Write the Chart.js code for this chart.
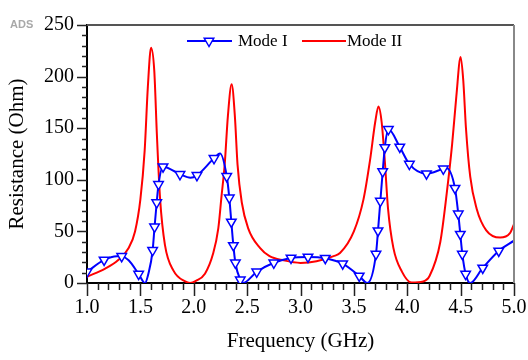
<!DOCTYPE html>
<html>
<head>
<meta charset="utf-8">
<script src="https://cdn.jsdelivr.net/npm/chart.js@4.4.1/dist/chart.umd.min.js"></script>
<style>
  body { margin: 0; background: #fff; }
  canvas { display: block; }
</style>
</head>
<body>
<canvas id="resChart" width="528" height="360"></canvas>
<script>
// Mode I (blue, with markers)
const modeIFreq = [1.00, 1.16, 1.28, 1.325, 1.39, 1.484, 1.543, 1.575, 1.615, 1.633, 1.653, 1.67, 1.712,
    1.871, 1.97, 2.03, 2.19, 2.246, 2.309, 2.333, 2.352, 2.371, 2.39, 2.436, 2.46, 2.59, 2.75, 2.911,
    3.07, 3.232, 3.395, 3.55, 3.626, 3.707, 3.726, 3.748, 3.77, 3.79, 3.823, 3.93, 4.02, 4.18, 4.338,
    4.37, 4.447, 4.478, 4.497, 4.516, 4.547, 4.59, 4.707, 4.857, 5.00];
const modeIRes = [10.8, 22.4, 26, 25.8, 22, 8.7, 0, 9, 31.7, 54.5, 78, 95.6, 112.7,
    105.3, 102, 104.3, 120.8, 125.5, 103.4, 82.5, 59.2, 36.4, 19.6, 3.1, 0, 10.8, 19.6, 24.3,
    25.2, 24, 18.7, 6.8, 0, 28, 50.7, 79.4, 108, 131.4, 148.9, 131.8, 115.2, 105.9, 110.6,
    111.3, 91.9, 67, 47.3, 28, 8.7, 0, 14.6, 31.1, 41];
// 1 = marker drawn at this sample
const modeIMarker = [1, 1, 0, 1, 0, 1, 0, 0, 1, 1, 1, 1, 1,
    1, 0, 1, 1, 0, 1, 1, 1, 1, 1, 1, 0, 1, 1, 1,
    1, 1, 1, 1, 0, 1, 1, 1, 1, 1, 1, 1, 1, 1, 1,
    0, 1, 1, 1, 1, 1, 0, 1, 1, 0];

// Mode II (red)
const modeIIFreq = [1.00, 1.17, 1.29, 1.39, 1.45, 1.50, 1.54, 1.57, 1.60, 1.63, 1.655, 1.685, 1.73, 1.81,
    1.92, 1.965, 2.02, 2.105, 2.18, 2.23, 2.26, 2.29, 2.32, 2.355, 2.385, 2.41, 2.45, 2.51, 2.62, 2.71,
    2.84, 3.00, 3.15, 3.31, 3.37, 3.50, 3.59, 3.65, 3.70, 3.73, 3.76, 3.79, 3.82, 3.87, 3.95, 4.04,
    4.15, 4.21, 4.31, 4.37, 4.42, 4.46, 4.50, 4.525, 4.55, 4.59, 4.65, 4.74, 4.87, 4.96, 5.00];
const modeIIRes = [6, 14, 22, 34, 50, 81, 128, 190, 228, 206, 143, 81, 37, 12,
    1.5, 0, 2, 9, 28, 53, 84, 115, 162, 192.5, 162, 115, 78, 53, 34, 26,
    22, 19.5, 21, 26, 29, 50, 81, 118, 156, 171, 156, 118, 72, 34, 11, 0.5,
    1.5, 7, 40, 87, 134, 181, 219, 196, 150, 103, 72, 51, 44, 48, 57];

const xTicks = [1.0, 1.5, 2.0, 2.5, 3.0, 3.5, 4.0, 4.5, 5.0];
const yTicks = [0, 50, 100, 150, 200, 250];

const serif = '"Liberation Serif", "Times New Roman", serif';

// ticks, frame, legend and the ADS tag
const decorPlugin = {
    id: 'decor',
    afterDraw(chart) {
        const ctx = chart.ctx;
        const xs = chart.scales.x, ys = chart.scales.y;
        const area = chart.chartArea;
        ctx.save();

        // top and right frame
        ctx.lineWidth = 2;
        ctx.strokeStyle = '#555';
        ctx.beginPath();
        ctx.moveTo(area.left, area.top);
        ctx.lineTo(area.right, area.top);
        ctx.stroke();
        ctx.strokeStyle = '#888';
        ctx.beginPath();
        ctx.moveTo(area.right, area.top);
        ctx.lineTo(area.right, area.bottom);
        ctx.stroke();

        // tick marks (major + minor)
        ctx.strokeStyle = '#222';
        ctx.lineWidth = 1.5;
        ctx.beginPath();
        for (let i = 0; i <= 25; i++) {
            const py = Math.round(ys.getPixelForValue(i * 10)) + 0.5;
            const len = i % 5 === 0 ? 10 : 5;
            ctx.moveTo(area.left, py);
            ctx.lineTo(area.left - len, py);
        }
        for (let i = 0; i <= 40; i++) {
            const px = Math.round(xs.getPixelForValue(1 + i * 0.1)) + 0.5;
            const len = i % 5 === 0 ? 13 : 7;
            ctx.moveTo(px, area.bottom);
            ctx.lineTo(px, area.bottom + len);
        }
        ctx.stroke();

        // legend
        const ds = chart.data.datasets;
        const ly = 41;
        ctx.font = '17px ' + serif;
        ctx.textBaseline = 'middle';
        ctx.textAlign = 'left';

        ctx.strokeStyle = ds[0].borderColor;
        ctx.lineWidth = 2;
        ctx.beginPath();
        ctx.moveTo(187, ly);
        ctx.lineTo(232, ly);
        ctx.stroke();
        ctx.fillStyle = '#fff';
        ctx.lineWidth = 1.5;
        ctx.beginPath();
        ctx.moveTo(209, ly + 5.5);
        ctx.lineTo(209 - 4.76, ly - 2.75);
        ctx.lineTo(209 + 4.76, ly - 2.75);
        ctx.closePath();
        ctx.fill();
        ctx.stroke();
        ctx.fillStyle = '#000';
        ctx.fillText(ds[0].label, 238, ly + 1);

        ctx.strokeStyle = ds[1].borderColor;
        ctx.lineWidth = 2;
        ctx.beginPath();
        ctx.moveTo(302, ly);
        ctx.lineTo(346, ly);
        ctx.stroke();
        ctx.fillText(ds[1].label, 347, ly + 1);

        // ADS tag
        ctx.font = 'bold 11px "Liberation Sans", Arial, sans-serif';
        ctx.fillStyle = '#a8a8a8';
        ctx.textBaseline = 'alphabetic';
        ctx.fillText('ADS', 10, 28);

        ctx.restore();
    }
};

const ctx = document.getElementById('resChart').getContext('2d');
new Chart(ctx, {
    type: 'line',
    data: {
        datasets: [{
            label: 'Mode I',
            data: modeIFreq.map((f, i) => ({ x: f, y: modeIRes[i] })),
            borderColor: '#0000ff',
            borderWidth: 2,
            cubicInterpolationMode: 'monotone',
            pointStyle: 'triangle',
            pointRotation: 180,
            pointRadius: c => modeIMarker[c.dataIndex] ? 5.5 : 0,
            pointBorderColor: '#0000ff',
            pointBackgroundColor: '#ffffff',
            pointBorderWidth: 1.5
        }, {
            label: 'Mode II',
            data: modeIIFreq.map((f, i) => ({ x: f, y: modeIIRes[i] })),
            borderColor: '#ff0000',
            borderWidth: 2,
            cubicInterpolationMode: 'monotone',
            pointRadius: 0
        }]
    },
    options: {
        responsive: false,
        animation: false,
        layout: { padding: { top: 16, right: 14, left: 0, bottom: 0 } },
        plugins: {
            legend: { display: false },
            tooltip: { enabled: false }
        },
        scales: {
            x: {
                type: 'linear',
                min: 1,
                max: 5,
                afterFit: s => { s.height = 77; s.paddingLeft = 0; s.paddingRight = 0; },
                afterBuildTicks: s => { s.ticks = xTicks.map(v => ({ value: v })); },
                ticks: {
                    callback: v => v.toFixed(1),
                    font: { family: serif, size: 20 },
                    color: '#000',
                    padding: 13,
                    maxRotation: 0,
                    autoSkip: false
                },
                grid: { drawOnChartArea: false, drawTicks: false },
                border: { color: '#000', width: 2 },
                title: {
                    display: true,
                    text: 'Frequency (GHz)',
                    font: { family: serif, size: 21 },
                    color: '#000',
                    padding: { top: 0, bottom: 6 }
                }
            },
            y: {
                min: 0,
                max: 250,
                afterFit: s => { s.width = 87; },
                afterBuildTicks: s => { s.ticks = yTicks.map(v => ({ value: v })); },
                ticks: {
                    font: { family: serif, size: 20 },
                    color: '#000',
                    padding: 13
                },
                grid: { drawOnChartArea: false, drawTicks: false },
                border: { color: '#000', width: 2 },
                title: {
                    display: true,
                    text: 'Resistance (Ohm)',
                    font: { family: serif, size: 21 },
                    color: '#000',
                    padding: { top: 5, bottom: 0 }
                }
            }
        }
    },
    plugins: [decorPlugin]
});
</script>
</body>
</html>
